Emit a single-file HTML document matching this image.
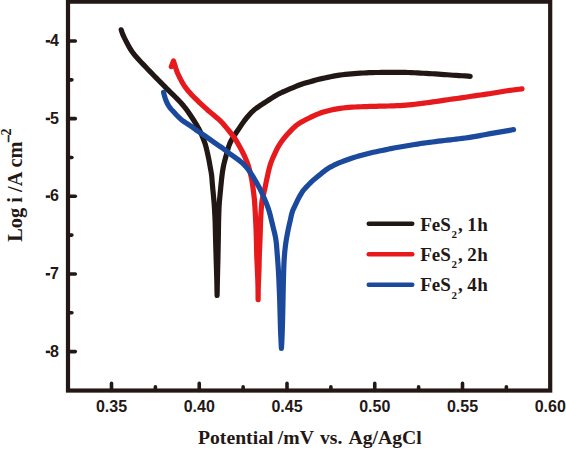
<!DOCTYPE html>
<html><head><meta charset="utf-8"><style>
html,body{margin:0;padding:0;background:#fff;}
body{width:566px;height:449px;overflow:hidden;}
svg{display:block;}
.tk{font-family:"Liberation Sans",sans-serif;font-weight:bold;font-size:16px;fill:#231815;}
.lg{font-family:"Liberation Serif",serif;font-weight:bold;font-size:19px;fill:#231815;}
.sub{font-size:11px;}
.ti{font-family:"Liberation Serif",serif;font-weight:bold;font-size:19.7px;fill:#231815;}
.yt{font-size:20.4px;}
</style></head><body>
<svg width="566" height="449" viewBox="0 0 566 449" xmlns="http://www.w3.org/2000/svg">
<g fill="none" stroke-linecap="round" stroke-linejoin="round" stroke-width="5.2">
<path d="M121.20,29.80 L122.13,32.66 L123.21,35.45 L124.51,38.15 L125.89,40.82 L127.27,43.50 L128.68,46.15 L130.17,48.76 L131.81,51.28 L133.59,53.70 L135.48,56.03 L137.47,58.28 L139.51,60.50 L141.58,62.68 L143.65,64.86 L145.72,67.04 L147.79,69.23 L149.87,71.39 L151.98,73.55 L154.08,75.70 L156.19,77.84 L158.29,79.99 L160.40,82.14 L162.50,84.29 L164.61,86.44 L166.72,88.58 L168.86,90.69 L171.04,92.77 L173.20,94.86 L175.33,96.98 L177.44,99.13 L179.52,101.30 L181.56,103.51 L183.53,105.78 L185.42,108.12 L187.21,110.53 L188.92,113.01 L190.60,115.50 L192.26,118.01 L193.90,120.53 L195.49,123.08 L197.04,125.66 L198.52,128.28 L199.88,130.96 L201.14,133.69 L202.34,136.45 L203.47,139.23 L204.53,142.05 L205.46,144.90 L206.25,147.80 L206.95,150.73 L207.60,153.66 L208.25,156.60 L208.86,159.55 L209.42,162.50 L209.94,165.46 L210.47,168.42 L211.01,171.38 L211.50,174.35 L211.84,177.33 L212.07,180.33 L212.29,183.33 L212.55,186.33 L212.83,189.32 L213.13,192.32 L213.42,195.31 L213.70,198.31 L213.96,201.30 L214.21,204.30 L214.41,207.30 L214.58,210.31 L214.74,213.31 L214.90,216.31 L215.04,219.32 L215.15,222.32 L215.23,225.33 L215.31,228.34 L215.38,231.35 L215.46,234.35 L215.53,237.36 L215.62,240.37 L215.70,243.38 L215.79,246.38 L215.88,249.39 L215.97,252.40 L216.06,255.40 L216.15,258.41 L216.24,261.42 L216.33,264.42 L216.42,267.43 L216.51,270.44 L216.60,273.44 L216.69,276.45 L216.78,279.46 L216.85,282.47 L216.91,285.47 L216.96,288.48 L217.02,291.49 L217.08,294.50 L217.10,295.50 L217.16,292.50 L217.22,289.50 L217.27,286.50 L217.33,283.50 L217.39,280.50 L217.46,277.50 L217.54,274.50 L217.61,271.50 L217.69,268.50 L217.76,265.50 L217.84,262.50 L217.91,259.50 L217.97,256.50 L218.03,253.50 L218.09,250.50 L218.15,247.50 L218.21,244.50 L218.27,241.50 L218.32,238.50 L218.37,235.49 L218.41,232.49 L218.46,229.49 L218.50,226.49 L218.55,223.49 L218.61,220.49 L218.69,217.49 L218.78,214.49 L218.88,211.49 L218.99,208.49 L219.13,205.50 L219.34,202.51 L219.59,199.52 L219.87,196.53 L220.15,193.54 L220.45,190.55 L220.74,187.57 L221.04,184.58 L221.34,181.60 L221.64,178.61 L221.98,175.63 L222.38,172.65 L222.83,169.69 L223.35,166.73 L223.97,163.80 L224.70,160.89 L225.47,157.99 L226.26,155.10 L227.04,152.20 L227.84,149.31 L228.73,146.44 L229.77,143.64 L231.01,140.92 L232.47,138.31 L234.10,135.79 L235.79,133.31 L237.49,130.84 L239.15,128.34 L240.79,125.83 L242.48,123.35 L244.22,120.91 L246.06,118.54 L247.99,116.24 L249.98,114.00 L252.04,111.83 L254.24,109.81 L256.61,107.99 L259.08,106.28 L261.59,104.64 L264.12,103.02 L266.63,101.39 L269.13,99.73 L271.65,98.09 L274.20,96.52 L276.79,95.00 L279.41,93.55 L282.11,92.25 L284.86,91.06 L287.63,89.90 L290.39,88.72 L293.15,87.55 L295.91,86.36 L298.68,85.23 L301.50,84.22 L304.37,83.34 L307.25,82.50 L310.14,81.68 L313.03,80.88 L315.93,80.10 L318.83,79.34 L321.74,78.63 L324.67,77.97 L327.60,77.34 L330.54,76.73 L333.49,76.18 L336.45,75.65 L339.40,75.16 L342.38,74.75 L345.36,74.41 L348.34,74.10 L351.33,73.83 L354.32,73.60 L357.32,73.39 L360.31,73.19 L363.30,73.00 L366.30,72.83 L369.30,72.67 L372.30,72.58 L375.30,72.52 L378.30,72.48 L381.30,72.43 L384.30,72.39 L387.30,72.35 L390.30,72.32 L393.30,72.34 L396.30,72.36 L399.30,72.39 L402.30,72.42 L405.30,72.45 L408.30,72.50 L411.30,72.59 L414.30,72.74 L417.30,72.90 L420.29,73.07 L423.29,73.23 L426.28,73.40 L429.28,73.57 L432.28,73.75 L435.27,73.95 L438.26,74.15 L441.26,74.35 L444.25,74.56 L447.25,74.78 L450.24,75.02 L453.23,75.25 L456.22,75.45 L459.22,75.61 L462.22,75.77 L465.21,75.94 L468.21,76.15 L470.20,76.30" stroke="#211714"/>
<path d="M171.30,66.60 L173.50,61.00 L175.83,68.39 L176.82,71.22 L177.99,73.99 L179.27,76.71 L180.62,79.40 L182.03,82.05 L183.55,84.64 L185.23,87.13 L187.04,89.53 L188.97,91.84 L190.97,94.08 L193.06,96.25 L195.19,98.37 L197.34,100.47 L199.51,102.56 L201.70,104.62 L203.91,106.67 L206.14,108.69 L208.40,110.67 L210.69,112.62 L213.00,114.55 L215.33,116.46 L217.64,118.38 L219.87,120.39 L221.96,122.54 L223.96,124.79 L225.90,127.09 L227.82,129.41 L229.72,131.74 L231.60,134.09 L233.41,136.49 L235.12,138.96 L236.73,141.50 L238.25,144.09 L239.72,146.72 L241.14,149.37 L242.51,152.05 L243.84,154.75 L245.12,157.47 L246.32,160.23 L247.42,163.03 L248.39,165.88 L249.22,168.76 L249.97,171.68 L250.66,174.61 L251.32,177.54 L251.90,180.49 L252.38,183.46 L252.80,186.44 L253.20,189.42 L253.58,192.41 L253.94,195.39 L254.28,198.38 L254.56,201.38 L254.76,204.38 L254.94,207.38 L255.12,210.39 L255.30,213.39 L255.46,216.40 L255.60,219.40 L255.75,222.41 L255.89,225.41 L256.02,228.42 L256.14,231.43 L256.23,234.43 L256.32,237.44 L256.40,240.45 L256.47,243.46 L256.53,246.47 L256.59,249.48 L256.66,252.48 L256.74,255.49 L256.87,258.50 L257.00,261.50 L257.14,264.51 L257.28,267.52 L257.42,270.52 L257.54,273.53 L257.66,276.54 L257.78,279.54 L257.89,282.55 L257.98,285.56 L258.02,288.57 L258.04,291.58 L258.07,294.58 L258.09,297.59 L258.10,299.60 L258.14,296.60 L258.18,293.59 L258.22,290.59 L258.27,287.59 L258.35,284.59 L258.46,281.59 L258.60,278.59 L258.74,275.59 L258.87,272.59 L258.99,269.59 L259.07,266.58 L259.13,263.58 L259.19,260.58 L259.25,257.58 L259.34,254.57 L259.46,251.57 L259.60,248.57 L259.74,245.57 L259.88,242.57 L260.00,239.57 L260.10,236.57 L260.19,233.57 L260.29,230.57 L260.38,227.57 L260.48,224.57 L260.58,221.56 L260.69,218.56 L260.82,215.56 L261.01,212.57 L261.23,209.57 L261.47,206.58 L261.73,203.59 L262.08,200.61 L262.65,197.67 L263.36,194.76 L264.10,191.85 L264.78,188.93 L265.40,185.99 L265.99,183.05 L266.60,180.10 L267.23,177.17 L267.87,174.23 L268.53,171.30 L269.24,168.39 L270.05,165.50 L270.98,162.65 L272.06,159.85 L273.24,157.09 L274.48,154.35 L275.72,151.62 L277.03,148.92 L278.47,146.29 L280.04,143.74 L281.75,141.27 L283.54,138.87 L285.42,136.53 L287.39,134.27 L289.46,132.09 L291.55,129.93 L293.65,127.79 L295.83,125.75 L298.21,123.95 L300.76,122.38 L303.39,120.94 L306.06,119.56 L308.74,118.20 L311.43,116.87 L314.14,115.58 L316.89,114.40 L319.69,113.30 L322.52,112.31 L325.39,111.45 L328.29,110.68 L331.22,109.99 L334.16,109.38 L337.11,108.83 L340.07,108.37 L343.05,107.98 L346.03,107.65 L349.02,107.38 L352.02,107.17 L355.02,107.01 L358.02,106.88 L361.02,106.76 L364.02,106.64 L367.02,106.53 L370.02,106.44 L373.02,106.35 L376.03,106.28 L379.03,106.20 L382.03,106.13 L385.03,106.06 L388.04,105.98 L391.04,105.90 L394.04,105.81 L397.04,105.68 L400.04,105.53 L403.03,105.34 L406.03,105.11 L409.02,104.86 L412.01,104.58 L415.00,104.26 L417.98,103.92 L420.96,103.54 L423.94,103.14 L426.91,102.74 L429.89,102.35 L432.86,101.94 L435.84,101.51 L438.81,101.07 L441.78,100.61 L444.74,100.15 L447.71,99.70 L450.69,99.28 L453.66,98.88 L456.64,98.48 L459.62,98.08 L462.59,97.66 L465.56,97.21 L468.52,96.74 L471.49,96.29 L474.46,95.85 L477.44,95.42 L480.41,95.01 L483.39,94.60 L486.36,94.17 L489.32,93.71 L492.29,93.23 L495.26,92.76 L498.22,92.28 L501.18,91.79 L504.14,91.29 L507.11,90.80 L510.08,90.36 L513.05,89.97 L516.03,89.59 L519.02,89.24 L522.00,88.90" stroke="#e61a1d"/>
<path d="M163.60,92.30 L164.30,95.22 L165.14,98.10 L166.16,100.91 L167.39,103.64 L168.90,106.21 L170.70,108.59 L172.67,110.85 L174.70,113.06 L176.76,115.25 L178.87,117.38 L181.07,119.42 L183.41,121.27 L185.91,122.92 L188.44,124.53 L190.93,126.20 L193.36,127.97 L195.78,129.74 L198.25,131.45 L200.75,133.10 L203.25,134.76 L205.73,136.46 L208.17,138.21 L210.60,139.97 L213.04,141.72 L215.50,143.44 L217.98,145.13 L220.49,146.78 L222.98,148.46 L225.35,150.28 L227.67,152.18 L230.05,153.99 L232.52,155.71 L235.00,157.39 L237.45,159.12 L239.84,160.94 L242.15,162.84 L244.32,164.90 L246.31,167.14 L248.18,169.48 L249.93,171.92 L251.58,174.42 L253.17,176.97 L254.71,179.55 L256.23,182.14 L257.72,184.74 L259.16,187.38 L260.53,190.05 L261.80,192.76 L263.02,195.51 L264.22,198.26 L265.39,201.03 L266.51,203.81 L267.60,206.61 L268.60,209.44 L269.47,212.31 L270.23,215.21 L270.95,218.13 L271.65,221.05 L272.34,223.97 L273.05,226.89 L273.77,229.80 L274.49,232.71 L275.15,235.64 L275.70,238.59 L276.15,241.56 L276.47,244.54 L276.71,247.53 L276.95,250.53 L277.18,253.52 L277.42,256.51 L277.65,259.51 L277.87,262.50 L278.08,265.50 L278.28,268.49 L278.46,271.49 L278.61,274.49 L278.75,277.49 L278.89,280.49 L279.03,283.49 L279.16,286.49 L279.28,289.49 L279.40,292.49 L279.52,295.49 L279.63,298.49 L279.73,301.49 L279.82,304.49 L279.90,307.49 L279.98,310.49 L280.06,313.50 L280.14,316.50 L280.22,319.50 L280.30,322.50 L280.38,325.50 L280.47,328.50 L280.58,331.50 L280.71,334.50 L280.85,337.50 L280.99,340.50 L281.13,343.50 L281.29,346.50 L281.40,348.50 L281.61,345.51 L281.79,342.51 L281.93,339.51 L282.05,336.51 L282.16,333.51 L282.27,330.51 L282.36,327.51 L282.45,324.51 L282.53,321.51 L282.61,318.51 L282.68,315.51 L282.75,312.50 L282.81,309.50 L282.87,306.50 L282.93,303.50 L282.99,300.50 L283.05,297.50 L283.11,294.50 L283.17,291.49 L283.23,288.49 L283.30,285.49 L283.37,282.49 L283.45,279.49 L283.53,276.49 L283.61,273.49 L283.70,270.49 L283.80,267.49 L283.92,264.49 L284.06,261.49 L284.24,258.49 L284.46,255.50 L284.71,252.51 L285.00,249.52 L285.34,246.54 L285.72,243.56 L286.16,240.59 L286.66,237.63 L287.19,234.68 L287.76,231.73 L288.36,228.79 L289.00,225.86 L289.68,222.93 L290.36,220.01 L290.98,217.07 L291.63,214.15 L292.47,211.29 L293.62,208.53 L294.93,205.83 L296.22,203.12 L297.49,200.40 L298.85,197.73 L300.31,195.11 L301.87,192.55 L303.59,190.11 L305.54,187.84 L307.61,185.68 L309.72,183.54 L311.88,181.45 L314.09,179.43 L316.40,177.52 L318.76,175.67 L321.10,173.79 L323.39,171.86 L325.76,170.03 L328.25,168.36 L330.83,166.83 L333.48,165.43 L336.18,164.14 L338.93,162.92 L341.71,161.79 L344.51,160.72 L347.33,159.70 L350.17,158.72 L353.02,157.77 L355.88,156.86 L358.76,156.00 L361.64,155.18 L364.54,154.39 L367.45,153.65 L370.37,152.95 L373.30,152.30 L376.23,151.68 L379.17,151.07 L382.12,150.47 L385.06,149.86 L387.99,149.22 L390.92,148.58 L393.87,148.01 L396.83,147.51 L399.79,147.02 L402.75,146.52 L405.71,146.02 L408.67,145.52 L411.63,145.04 L414.59,144.55 L417.55,144.06 L420.51,143.56 L423.48,143.11 L426.46,142.73 L429.44,142.36 L432.42,141.98 L435.39,141.58 L438.37,141.20 L441.35,140.84 L444.33,140.49 L447.31,140.16 L450.30,139.83 L453.28,139.50 L456.26,139.15 L459.24,138.78 L462.22,138.40 L465.20,138.00 L468.17,137.57 L471.13,137.11 L474.10,136.63 L477.05,136.11 L480.01,135.57 L482.96,135.01 L485.91,134.46 L488.86,133.92 L491.81,133.39 L494.77,132.88 L497.73,132.37 L500.70,131.89 L503.66,131.40 L506.61,130.89 L509.57,130.34 L512.52,129.79 L513.50,129.60" stroke="#1b4a9c"/>
</g>
<rect x="68.0" y="1.65" width="482.20" height="388.90" fill="none" stroke="#231815" stroke-width="4.2"/>
<g stroke="#231815" stroke-width="3.6" stroke-linecap="round">
<line x1="111.50" y1="390.55" x2="111.50" y2="383.40"/><line x1="199.25" y1="390.55" x2="199.25" y2="383.40"/><line x1="287.00" y1="390.55" x2="287.00" y2="383.40"/><line x1="374.75" y1="390.55" x2="374.75" y2="383.40"/><line x1="462.50" y1="390.55" x2="462.50" y2="383.40"/><line x1="155.38" y1="390.55" x2="155.38" y2="386.80"/><line x1="243.13" y1="390.55" x2="243.13" y2="386.80"/><line x1="330.88" y1="390.55" x2="330.88" y2="386.80"/><line x1="418.63" y1="390.55" x2="418.63" y2="386.80"/><line x1="506.37" y1="390.55" x2="506.37" y2="386.80"/><line x1="68.0" y1="41.00" x2="75.30" y2="41.00"/><line x1="68.0" y1="118.65" x2="75.30" y2="118.65"/><line x1="68.0" y1="196.30" x2="75.30" y2="196.30"/><line x1="68.0" y1="273.95" x2="75.30" y2="273.95"/><line x1="68.0" y1="351.60" x2="75.30" y2="351.60"/><line x1="68.0" y1="79.83" x2="71.90" y2="79.83"/><line x1="68.0" y1="157.48" x2="71.90" y2="157.48"/><line x1="68.0" y1="235.12" x2="71.90" y2="235.12"/><line x1="68.0" y1="312.78" x2="71.90" y2="312.78"/>
</g>
<g class="tk"><text x="111.50" y="411.6" text-anchor="middle">0.35</text><text x="199.25" y="411.6" text-anchor="middle">0.40</text><text x="287.00" y="411.6" text-anchor="middle">0.45</text><text x="374.75" y="411.6" text-anchor="middle">0.50</text><text x="462.50" y="411.6" text-anchor="middle">0.55</text><text x="550.25" y="411.6" text-anchor="middle">0.60</text><text x="59.0" y="46.00" text-anchor="end">4</text><text x="59.0" y="123.65" text-anchor="end">5</text><text x="59.0" y="201.30" text-anchor="end">6</text><text x="59.0" y="278.95" text-anchor="end">7</text><text x="59.0" y="356.60" text-anchor="end">8</text></g>
<g fill="#231815"><rect x="45.8" y="40.05" width="4.3" height="2.5"/><rect x="45.8" y="117.70" width="4.3" height="2.5"/><rect x="45.8" y="195.35" width="4.3" height="2.5"/><rect x="45.8" y="273.00" width="4.3" height="2.5"/><rect x="45.8" y="350.65" width="4.3" height="2.5"/></g>
<line x1="368.8" y1="223.8" x2="412.2" y2="223.8" stroke="#211714" stroke-width="4.6" stroke-linecap="round"/><text x="420.2" y="230.50" class="lg">FeS<tspan class="sub" dx="0.7" dy="7.5">2</tspan><tspan dx="1.0" dy="-7.5">,</tspan><tspan dx="-0.3"> 1</tspan><tspan dx="0.6">h</tspan></text><line x1="368.8" y1="254.2" x2="412.2" y2="254.2" stroke="#e61a1d" stroke-width="4.6" stroke-linecap="round"/><text x="420.2" y="260.90" class="lg">FeS<tspan class="sub" dx="0.7" dy="7.5">2</tspan><tspan dx="1.0" dy="-7.5">,</tspan><tspan dx="-0.3"> 2</tspan><tspan dx="0.6">h</tspan></text><line x1="368.8" y1="284.7" x2="412.2" y2="284.7" stroke="#1b4a9c" stroke-width="4.6" stroke-linecap="round"/><text x="420.2" y="291.40" class="lg">FeS<tspan class="sub" dx="0.7" dy="7.5">2</tspan><tspan dx="1.0" dy="-7.5">,</tspan><tspan dx="-0.3"> 4</tspan><tspan dx="0.6">h</tspan></text>
<text class="ti" y="443.7"><tspan x="198">Potential</tspan><tspan x="277.8">/mV</tspan><tspan x="320">vs.</tspan><tspan x="348.5">Ag/AgCl</tspan></text>
<text class="ti yt" transform="translate(22.2,241.8) rotate(-90)">Log i /A cm<tspan font-size="12.5" dx="-0.2" dy="-10.9" stroke="#231815" stroke-width="0.6">&#8211;</tspan><tspan font-size="14">2</tspan></text>
</svg>
</body></html>
